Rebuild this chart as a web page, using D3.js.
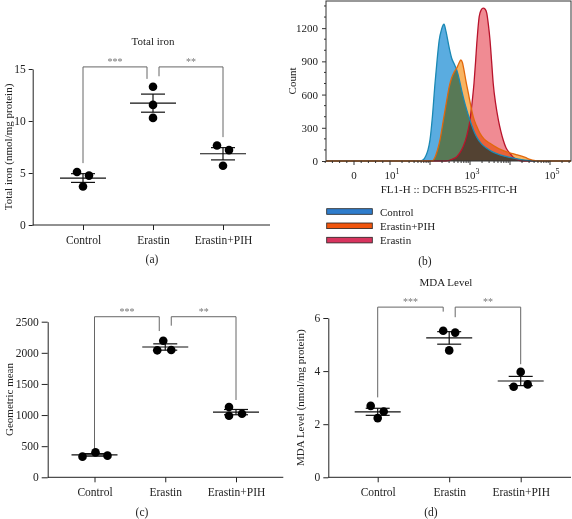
<!DOCTYPE html>
<html><head><meta charset="utf-8">
<script src="https://cdn.jsdelivr.net/npm/d3@7"></script>
<style>
body{margin:0;background:#fff;}
svg{display:block;font-family:"Liberation Serif","Times New Roman",serif;}
</style></head><body>
<svg id="chart" width="572" height="519"></svg>
<script>
// ---------------- DATA ----------------
const categories = ["Control", "Erastin", "Erastin+PIH"];
const totalIron = [[5.1, 4.75, 3.7], [13.3, 11.55, 10.3], [7.65, 7.2, 5.7]];
const geoMean   = [[332, 401, 348], [2195, 2040, 2045], [1130, 990, 1022]];
const mdaLevel  = [[2.69, 2.48, 2.23], [5.52, 5.45, 4.78], [3.97, 3.41, 3.5]];
const ironTicks = [0, 5, 10, 15];
const geoTicks  = [0, 500, 1000, 1500, 2000, 2500];
const mdaTicks  = [0, 2, 4, 6];
const sigLabels = ["***", "**"];
// bracket levels (data units): [top, left leg end, right leg end]
const ironBrackets = [[15.2, 5.95, 14.05], [15.2, 14.3, 8.45]];
const geoBrackets  = [[2580, 412, 2350], [2580, 2436, 1242]];
const mdaBrackets  = [[6.41, 3.01, 6.24], [6.41, 6.03, 4.26]];

// flow cytometry histogram (x in decades of FL1-H, y in counts)
const seriesNames = ["Control", "Erastin+PIH", "Erastin"];
const controlHist = [[1.75,0],[1.83,10],[1.9,50],[1.95,100],[2.0,190],[2.06,400],[2.125,700],[2.18,920],[2.23,1090],[2.29,1190],[2.35,1235],[2.4,1170],[2.46,1060],[2.5,990],[2.54,930],[2.6,880],[2.67,820],[2.73,740],[2.79,640],[2.85,550],[2.92,460],[2.98,390],[3.04,325],[3.12,250],[3.21,190],[3.3,150],[3.42,115],[3.55,85],[3.75,55],[4.0,32],[4.25,15],[4.45,5],[4.6,0]];
const pihHist = [[2.05,0],[2.12,30],[2.18,90],[2.25,190],[2.33,360],[2.42,550],[2.48,670],[2.54,750],[2.6,800],[2.67,840],[2.72,880],[2.77,912],[2.81,890],[2.85,820],[2.9,720],[2.96,610],[3.02,500],[3.08,400],[3.16,320],[3.25,250],[3.35,200],[3.5,160],[3.65,125],[3.79,100],[3.92,82],[4.04,69],[4.15,58],[4.25,48],[4.38,32],[4.5,15],[4.6,5],[4.7,0]];
const erastinHist = [[2.4,0],[2.55,15],[2.67,39],[2.75,75],[2.83,130],[2.92,230],[3.0,370],[3.05,520],[3.1,702],[3.14,900],[3.17,1063],[3.2,1200],[3.23,1304],[3.28,1365],[3.33,1380],[3.38,1370],[3.42,1334],[3.46,1230],[3.5,1093],[3.54,900],[3.58,702],[3.64,520],[3.71,370],[3.77,270],[3.83,190],[3.9,120],[4.0,69],[4.08,35],[4.17,15],[4.3,0]];
const countTicks = [0, 300, 600, 900, 1200];
const fl1TickValues = [0, 10, 1000, 100000];
const fl1TickBase = ["0", "10", "10", "10"];
const fl1TickExp  = ["", "1", "3", "5"];

// ---------------- LAYOUT / STYLE ----------------
const svg = d3.select("#chart");
const fmt = d3.format("d");
const jitter = {
  a: [[-6, 6, 0], [0, 0, 0], [-6, 6, 0]],
  c: [[-12, 1, 13], [-2, -8, 6], [-7, -7, 6]],
  d: [[-7, 6, 0], [-6, 6, 0], [0, -7, 7]]
};

function dotPlot(cfg) {
  const g = svg.append("g");
  const x = d3.scalePoint().domain(categories).range(cfg.catRange);
  const y = d3.scaleLinear().domain([0, cfg.ticks[cfg.ticks.length - 1]]).range(cfg.yRange);
  const ya = g.append("g").attr("transform", `translate(${cfg.axisX},0)`)
    .call(d3.axisLeft(y).tickValues(cfg.ticks).tickFormat(fmt).tickSize(cfg.tick).tickSizeOuter(0).tickPadding(3));
  ya.selectAll("path,line").attr("stroke", "#222");
  ya.selectAll("text").attr("font-family", "Liberation Serif").attr("font-size", 11.5).attr("fill", "#222");
  const xa = g.append("g").attr("transform", `translate(0,${y(0)})`)
    .call(d3.axisBottom(x).tickSize(5).tickSizeOuter(0).tickPadding(6));
  xa.select(".domain").remove();
  xa.append("line").attr("x1", cfg.axisX).attr("x2", cfg.axisEnd).attr("stroke", "#222");
  xa.selectAll("line").attr("stroke", "#222");
  xa.selectAll("text").attr("font-family", "Liberation Serif").attr("font-size", 11.5).attr("fill", "#222");
  g.append("text").attr("transform", `translate(${cfg.ylabX},${(cfg.yRange[0] + cfg.yRange[1]) / 2}) rotate(-90)`)
    .attr("text-anchor", "middle").attr("dominant-baseline", "central").attr("font-size", 11).attr("fill", "#222").text(cfg.ylabel);
  if (cfg.title) {
    g.append("text").attr("x", cfg.titleX).attr("y", cfg.titleY).attr("text-anchor", "middle")
      .attr("dominant-baseline", "central").attr("font-size", 11).attr("fill", "#222").text(cfg.title);
  }
  cfg.brackets.forEach((b, i) => {
    const xl = i === 0 ? x(categories[0]) : x(categories[1]) + 6;
    const xr = i === 0 ? x(categories[1]) - 6 : x(categories[2]);
    g.append("path").attr("fill", "none").attr("stroke", "#666").attr("stroke-width", 1)
      .attr("d", `M${xl},${y(b[1])}V${y(b[0])}H${xr}V${y(b[2])}`);
    g.append("text").attr("x", (xl + xr) / 2).attr("y", y(b[0]) - 2).attr("text-anchor", "middle")
      .attr("font-size", 10).attr("fill", "#777").text(sigLabels[i]);
  });
  cfg.data.forEach((vals, i) => {
    const cx = x(categories[i]);
    const m = d3.mean(vals), s = d3.deviation(vals) / Math.sqrt(vals.length);
    const ln = (x1, y1, x2, y2) => g.append("line").attr("x1", x1).attr("y1", y1).attr("x2", x2).attr("y2", y2)
      .attr("stroke", "#111").attr("stroke-width", 1.2);
    ln(cx - 23, y(m), cx + 23, y(m));
    ln(cx, y(m - s), cx, y(m + s));
    ln(cx - 12, y(m - s), cx + 12, y(m - s));
    ln(cx - 12, y(m + s), cx + 12, y(m + s));
    vals.forEach((v, j) => {
      g.append("circle").attr("cx", cx + cfg.jit[i][j]).attr("cy", y(v)).attr("r", 4.3).attr("fill", "#000");
    });
  });
  g.append("text").attr("x", cfg.capX).attr("y", cfg.capY).attr("text-anchor", "middle")
    .attr("font-size", 11.5).attr("fill", "#222").text(cfg.caption);
}

dotPlot({data: totalIron, ticks: ironTicks, catRange: [83, 223], yRange: [225, 69], axisX: 32.7, axisEnd: 270, tick: 4,
  ylabX: 8, ylabel: "Total iron (nmol/mg protein)", title: "Total iron", titleX: 153, titleY: 41,
  brackets: ironBrackets, jit: jitter.a, caption: "(a)", capX: 152, capY: 263});
dotPlot({data: geoMean, ticks: geoTicks, catRange: [94.5, 236], yRange: [477.3, 321.7], axisX: 47.7, axisEnd: 283.3, tick: 6,
  ylabX: 8.5, ylabel: "Geometric mean", title: null,
  brackets: geoBrackets, jit: jitter.c, caption: "(c)", capX: 142, capY: 516});
dotPlot({data: mdaLevel, ticks: mdaTicks, catRange: [377.7, 520.7], yRange: [477.3, 318], axisX: 328.3, axisEnd: 571, tick: 5,
  ylabX: 300, ylabel: "MDA Level (nmol/mg protein)", title: "MDA Level", titleX: 446, titleY: 282,
  brackets: mdaBrackets, jit: jitter.d, caption: "(d)", capX: 431, capY: 516});

// ---------------- PANEL B: histogram ----------------
(function () {
  const L = 326, R = 571, T = 1, B = 161;
  const g = svg.append("g");
  const x = d3.scaleLinear().domain([-0.6, 5.525]).range([L, R]);
  const y = d3.scaleLinear().domain([0, 1445]).range([B, T]);
  const tr = v => v >= 10 ? Math.log10(v) : 0.1 + 0.09 * v;
  const hists = [controlHist, pihHist, erastinHist];
  const fills = ["#5aacE0", "#f8b462", "#ec6a74"];
  const strokes = ["#1a88b4", "#e2680c", "#b8142c"];
  const full = h => [[-0.6, 0]].concat(h, [[5.525, 0]]);
  const area = d3.area().x(d => x(d[0])).y0(y(0)).y1(d => y(d[1])).curve(d3.curveMonotoneX);
  const line = d3.line().x(d => x(d[0])).y(d => y(d[1])).curve(d3.curveMonotoneX);
  const fg = g.append("g").style("isolation", "isolate");
  hists.forEach((h, i) => {
    fg.append("path").attr("d", area(full(h))).attr("fill", fills[i])
      .attr("fill-opacity", i === 2 ? 0.78 : 1).style("mix-blend-mode", "multiply");
  });
  [2, 0, 1].forEach(i => {
    g.append("path").attr("d", line(full(hists[i]))).attr("fill", "none").attr("stroke", strokes[i]).attr("stroke-width", 1.3);
  });
  g.append("rect").attr("x", L).attr("y", T).attr("width", R - L).attr("height", B - T)
    .attr("fill", "none").attr("stroke", "#333").attr("stroke-width", 1);
  const ya = g.append("g").attr("transform", `translate(${L},0)`)
    .call(d3.axisLeft(y).tickValues(countTicks).tickFormat(fmt).tickSize(4).tickSizeOuter(0).tickPadding(4));
  ya.select(".domain").remove();
  ya.selectAll("line").attr("stroke", "#333");
  ya.selectAll("text").attr("font-family", "Liberation Serif").attr("font-size", 11).attr("fill", "#222");
  d3.range(100, 1445, 100).filter(v => v % 300 !== 0).forEach(v => {
    g.append("line").attr("x1", L - 2).attr("x2", L).attr("y1", y(v)).attr("y2", y(v)).attr("stroke", "#333");
  });
  const minor = [-8, -6, -4, -2, 2, 4, 6, 8];
  for (let d = 1; d <= 5; d++) for (let k = 2; k <= 9; k++) minor.push(k * Math.pow(10, d));
  minor.filter(v => tr(v) <= 5.525).forEach(v => {
    g.append("line").attr("x1", x(tr(v))).attr("x2", x(tr(v))).attr("y1", B).attr("y2", B + 2).attr("stroke", "#333");
  });
  [0, 10, 100, 1000, 10000, 100000].forEach(v => {
    g.append("line").attr("x1", x(tr(v))).attr("x2", x(tr(v))).attr("y1", B).attr("y2", B + 4).attr("stroke", "#333");
  });
  fl1TickValues.forEach((v, i) => {
    const t = g.append("text").attr("x", x(tr(v)) + (fl1TickExp[i] ? 2 : 0)).attr("y", B + 18)
      .attr("text-anchor", "middle").attr("font-size", 11).attr("fill", "#222");
    t.append("tspan").text(fl1TickBase[i]);
    if (fl1TickExp[i]) t.append("tspan").attr("dy", -5).attr("font-size", 8).text(fl1TickExp[i]);
  });
  g.append("text").attr("x", 449).attr("y", 193).attr("text-anchor", "middle").attr("font-size", 11)
    .attr("fill", "#222").text("FL1-H :: DCFH B525-FITC-H");
  g.append("text").attr("transform", `translate(292,81) rotate(-90)`).attr("text-anchor", "middle")
    .attr("dominant-baseline", "central").attr("font-size", 11).attr("fill", "#222").text("Count");
  const legColors = ["#2f7dcc", "#f0560e", "#d8345e"];
  seriesNames.forEach((n, i) => {
    const cy = 211.5 + i * 14.3;
    g.append("rect").attr("x", 326.7).attr("y", cy - 2.8).attr("width", 45.6).attr("height", 5.6)
      .attr("fill", legColors[i]).attr("stroke", "#222").attr("stroke-width", 0.8);
    g.append("text").attr("x", 380).attr("y", cy).attr("dominant-baseline", "central")
      .attr("font-size", 11).attr("fill", "#222").text(n);
  });
  g.append("text").attr("x", 425).attr("y", 265).attr("text-anchor", "middle").attr("font-size", 11.5)
    .attr("fill", "#222").text("(b)");
})();
</script>
</body></html>
